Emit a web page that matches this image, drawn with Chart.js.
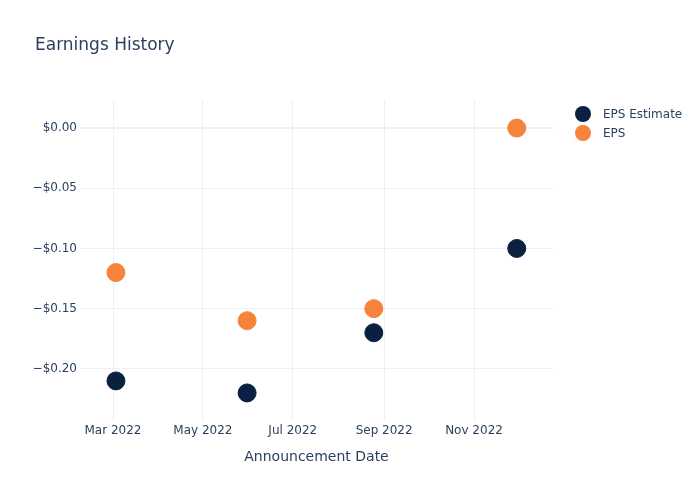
<!DOCTYPE html>
<html>
<head>
<meta charset="utf-8">
<script src="https://cdn.jsdelivr.net/npm/chart.js@4"></script>
<style>
  html, body { margin: 0; padding: 0; background: #fff; }
  #wrap { width: 700px; height: 500px; }
</style>
</head>
<body>
<div id="wrap"><canvas id="epsChart" width="700" height="500"></canvas></div>
<script>
// announcement dates as day-of-year 2022 (Mar 3, May 31, Aug 25, Nov 30)
const announceDays = [61, 150, 236, 333];
const epsEstimate = [-0.21, -0.22, -0.17, -0.10];
const epsActual = [-0.12, -0.16, -0.15, 0.00];
const seriesNames = ['EPS Estimate', 'EPS'];
const seriesColors = ['#0b1f40', '#f7823a'];
// x ticks: first day of month (day-of-year) and label
const xTickDays = [59, 120, 181, 243, 304];
const xTickLabels = ['Mar 2022', 'May 2022', 'Jul 2022', 'Sep 2022', 'Nov 2022'];
const yTickValues = [0, -0.05, -0.10, -0.15, -0.20];

const FONT = '"DejaVu Sans", "Open Sans", sans-serif';
const TEXT = '#2a3f5f';
const GRID = '#ebf0f8';

// 🏷️ title, x-axis title, legend drawn at fixed spots like plotly
const extrasPlugin = {
  id: 'extras',
  afterDraw(chart) {
    const ctx = chart.ctx;
    const area = chart.chartArea;
    ctx.save();
    ctx.fillStyle = TEXT;
    ctx.textBaseline = 'middle';

    ctx.font = '17px ' + FONT;
    ctx.textAlign = 'left';
    ctx.fillText('Earnings History', 35, 45.5);

    ctx.font = '14px ' + FONT;
    ctx.textAlign = 'center';
    ctx.fillText('Announcement Date', (area.left + area.right) / 2, 457);

    ctx.font = '12px ' + FONT;
    ctx.textAlign = 'left';
    seriesNames.forEach((name, i) => {
      const y = 115 + i * 19;
      ctx.beginPath();
      ctx.arc(583, y - 1, 8, 0, Math.PI * 2);
      ctx.fillStyle = seriesColors[i];
      ctx.fill();
      ctx.fillStyle = TEXT;
      ctx.fillText(name, 603, y);
    });
    ctx.restore();
  }
};

new Chart(document.getElementById('epsChart'), {
  type: 'scatter',
  data: {
    datasets: [
      {
        label: seriesNames[0],
        data: announceDays.map((d, i) => ({ x: d, y: epsEstimate[i] })),
        backgroundColor: seriesColors[0],
        borderColor: seriesColors[0],
        pointRadius: 9,
        pointHoverRadius: 9
      },
      {
        label: seriesNames[1],
        data: announceDays.map((d, i) => ({ x: d, y: epsActual[i] })),
        backgroundColor: seriesColors[1],
        borderColor: seriesColors[1],
        pointRadius: 9,
        pointHoverRadius: 9
      }
    ]
  },
  options: {
    responsive: false,
    animation: false,
    layout: { padding: { left: 0, right: 147, top: 100, bottom: 0 } },
    plugins: {
      legend: { display: false },
      title: { display: false },
      tooltip: { enabled: false }
    },
    scales: {
      x: {
        type: 'linear',
        min: 36.6,
        max: 357.6,
        afterBuildTicks: axis => { axis.ticks = xTickDays.map(v => ({ value: v })); },
        afterFit: axis => { axis.height = 79; },
        ticks: {
          color: TEXT,
          font: { family: FONT, size: 12 },
          padding: 3,
          maxRotation: 0,
          autoSkip: false,
          callback: (v) => xTickLabels[xTickDays.indexOf(v)] || ''
        },
        grid: { color: GRID, lineWidth: 1, drawTicks: false },
        border: { display: false }
      },
      y: {
        min: -0.2433,
        max: 0.0233,
        afterBuildTicks: axis => { axis.ticks = yTickValues.map(v => ({ value: v })); },
        afterFit: axis => { axis.width = 80; },
        ticks: {
          color: TEXT,
          font: { family: FONT, size: 12 },
          padding: 3,
          callback: v => (v < 0 ? '\u2212' : '') + '$' + Math.abs(v).toFixed(2)
        },
        grid: {
          color: GRID,
          lineWidth: c => (c.tick && c.tick.value === 0 ? 2 : 1),
          drawTicks: false
        },
        border: { display: false }
      }
    }
  },
  plugins: [extrasPlugin]
});
</script>
</body>
</html>
